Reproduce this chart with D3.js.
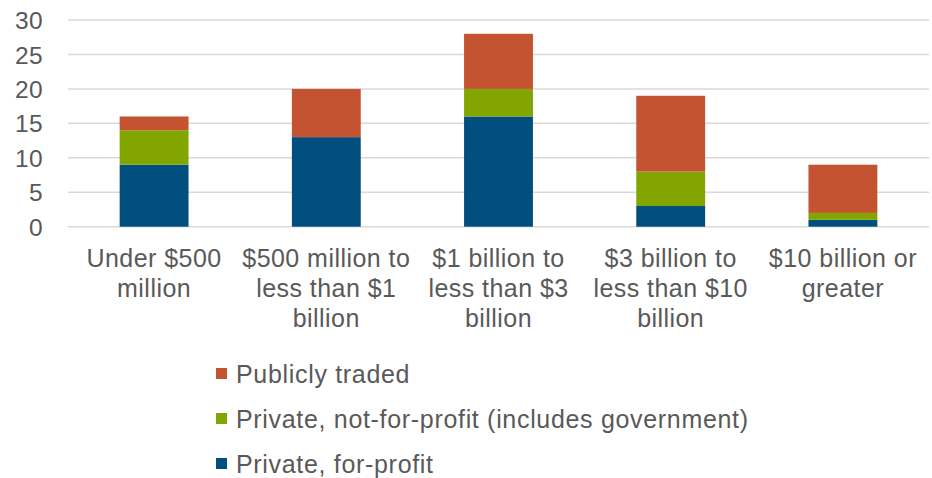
<!DOCTYPE html>
<html>
<head>
<meta charset="utf-8">
<script src="https://cdn.jsdelivr.net/npm/d3@7"></script>
<style>
  html, body { margin: 0; padding: 0; background: #fff; }
  svg { display: block; }
  text { font-family: "Liberation Sans", Arial, sans-serif; fill: #595959; }
</style>
</head>
<body>
<svg id="chart" width="932" height="478"></svg>
<script>
const categories = [
  ["Under $500", "million"],
  ["$500 million to", "less than $1", "billion"],
  ["$1 billion to", "less than $3", "billion"],
  ["$3 billion to", "less than $10", "billion"],
  ["$10 billion or", "greater"]
];
const privateForProfit = [9, 13, 16, 3, 1];
const privateNotForProfit = [5, 0, 4, 5, 1];
const publiclyTraded = [2, 7, 8, 11, 7];
const yTicks = [0, 5, 10, 15, 20, 25, 30];
const seriesNames = ["Private, for-profit", "Private, not-for-profit (includes government)", "Publicly traded"];
const seriesColors = ["#004F7E", "#82A500", "#C35331"];

const svg = d3.select("#chart");
const x = d3.scaleBand().domain(d3.range(categories.length)).range([68, 929]).paddingInner(0.6).paddingOuter(0.3);
const y = d3.scaleLinear().domain([0, 30]).range([226.7, 20]);

// gridlines
svg.append("g").selectAll("line").data(yTicks).join("line")
  .attr("x1", 68).attr("x2", 929)
  .attr("y1", d => y(d)).attr("y2", d => y(d))
  .attr("stroke", "#D9D9D9").attr("stroke-width", 1.5);

// y axis labels
const yAxis = d3.axisLeft(y).tickValues(yTicks).tickSize(0).tickPadding(0);
const yg = svg.append("g").attr("transform", "translate(43,0)").call(yAxis);
yg.select(".domain").remove();
yg.selectAll("text").style("font-size", "24.5px").style("letter-spacing", "0.4px").attr("fill", "#595959").attr("dy", "0.35em");

// stacked data
const rows = categories.map((c, i) => ({ i, s0: privateForProfit[i], s1: privateNotForProfit[i], s2: publiclyTraded[i] }));
const stack = d3.stack().keys(["s0", "s1", "s2"]);
const stacked = stack(rows);

svg.append("g").selectAll("g").data(stacked).join("g")
  .attr("fill", (d, k) => seriesColors[k])
  .selectAll("rect").data(d => d.filter(p => p[1] - p[0] > 0)).join("rect")
  .attr("x", d => x(d.data.i))
  .attr("width", x.bandwidth())
  .attr("y", d => y(d[1]))
  .attr("height", d => y(d[0]) - y(d[1]));

// x labels
const xl = svg.append("g");
categories.forEach((lines, i) => {
  const cx = x(i) + x.bandwidth() / 2;
  const t = xl.append("text")
    .attr("text-anchor", "middle")
    .style("font-size", "25px")
    .style("letter-spacing", "0.45px")
    .attr("x", cx)
    .attr("y", 267);
  lines.forEach((ln, j) => {
    t.append("tspan").attr("x", cx).attr("y", 267 + j * 30).text(ln);
  });
});

// legend (reverse order)
const legendOrder = [2, 1, 0];
const lg = svg.append("g");
legendOrder.forEach((k, r) => {
  const yy = 383 + r * 45;
  lg.append("rect").attr("x", 216).attr("y", yy - 15).attr("width", 11).attr("height", 11).attr("fill", seriesColors[k]);
  lg.append("text").attr("x", 236).attr("y", yy).style("font-size", "25px").style("letter-spacing", "0.68px").text(seriesNames[k]);
});
</script>
</body>
</html>
